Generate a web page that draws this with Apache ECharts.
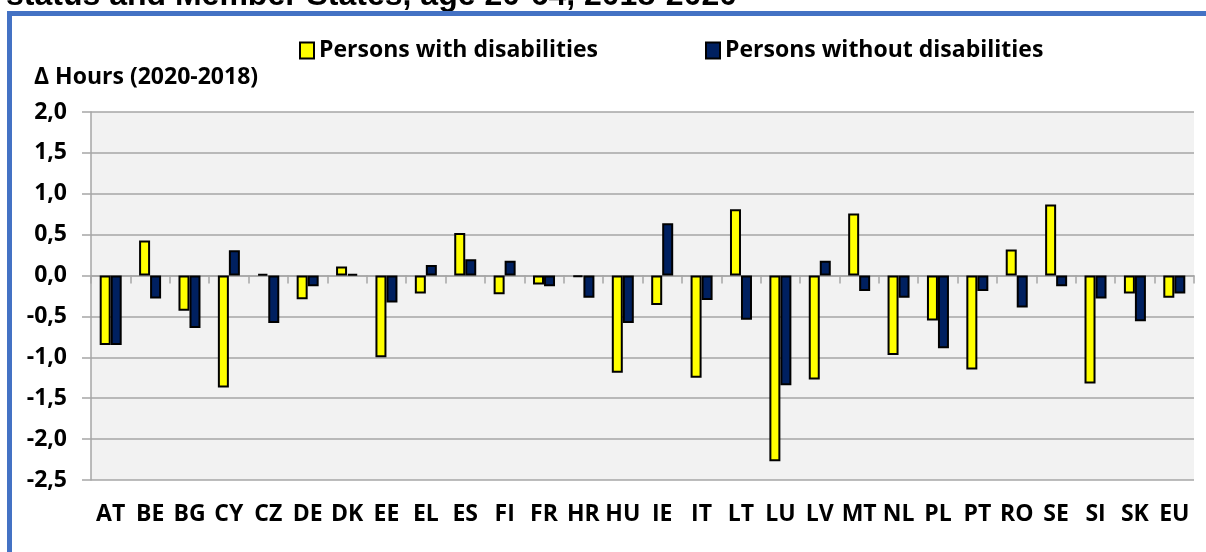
<!DOCTYPE html>
<html>
<head>
<meta charset="utf-8">
<script src="https://cdn.jsdelivr.net/npm/echarts@6/dist/echarts.min.js"></script>
<style>
  html, body { margin: 0; padding: 0; background: #fff; }
  #chartsId { width: 1206px; height: 552px; }
</style>
</head>
<body>
<div id="chartsId"></div>
<script>
const countries = ['AT', 'BE', 'BG', 'CY', 'CZ', 'DE', 'DK', 'EE', 'EL', 'ES', 'FI', 'FR', 'HR', 'HU',
  'IE', 'IT', 'LT', 'LU', 'LV', 'MT', 'NL', 'PL', 'PT', 'RO', 'SE', 'SI', 'SK', 'EU'];

// change in hours, 2020 minus 2018
const withDis = [-0.85, 0.43, -0.43, -1.37, 0.02, -0.29, 0.11, -1.00, -0.22, 0.52, -0.23, -0.11, -0.02, -1.19,
  -0.36, -1.25, 0.81, -2.27, -1.27, 0.76, -0.97, -0.55, -1.15, 0.32, 0.87, -1.32, -0.22, -0.27];
const withoutDis = [-0.85, -0.28, -0.64, 0.31, -0.58, -0.13, 0.02, -0.33, 0.13, 0.20, 0.18, -0.13, -0.27, -0.58,
  0.64, -0.30, -0.54, -1.34, 0.18, -0.19, -0.27, -0.89, -0.19, -0.39, -0.13, -0.28, -0.56, -0.22];

const yTicks = { min: -2.5, max: 2.0, step: 0.5 };

const font = '"Open Sans", Lato, sans-serif';
const fs = 23;
const gridGray = '#a6a6a6';

const chartDom = document.getElementById('chartsId');
const myChart = echarts.init(chartDom);

const option = {
  animation: false,
  backgroundColor: '#fff',
  graphic: [
    {
      type: 'text',
      left: 6,
      top: -20,
      style: {
        text: 'status and Member States, age 20-64, 2018-2020',
        font: 'bold 32px "Liberation Sans", Arial, sans-serif',
        fill: '#000'
      }
    },
    {
      type: 'rect',
      shape: { x: 9.5, y: 13.5, width: 1300, height: 700 },
      style: { fill: 'none', stroke: '#4472C4', lineWidth: 5 }
    }
  ],
  title: {
    text: 'Δ Hours (2020-2018)',
    left: 29,
    top: 61,
    textStyle: { fontFamily: font, fontWeight: 'bold', fontSize: fs, color: '#000' }
  },
  legend: [
    {
      data: ['Persons with disabilities'],
      left: 294,
      top: 34,
      icon: 'rect',
      itemWidth: 14,
      itemHeight: 16,
      itemStyle: { borderColor: '#000', borderWidth: 2 },
      textStyle: { fontFamily: font, fontWeight: 'bold', fontSize: fs, color: '#000' }
    },
    {
      data: ['Persons without disabilities'],
      left: 700,
      top: 34,
      icon: 'rect',
      itemWidth: 14,
      itemHeight: 16,
      itemStyle: { borderColor: '#000', borderWidth: 2 },
      textStyle: { fontFamily: font, fontWeight: 'bold', fontSize: fs, color: '#000' }
    }
  ],
  grid: {
    left: 91,
    right: 12,
    top: 112,
    bottom: 72,
    show: true,
    backgroundColor: '#f2f2f2',
    borderWidth: 0
  },
  xAxis: [
    {
      type: 'category',
      data: countries,
      position: 'bottom',
      axisLine: { show: false, onZero: false },
      axisTick: { show: false },
      axisLabel: {
        margin: 23,
        fontFamily: font,
        fontWeight: 'bold',
        fontSize: fs,
        color: '#000',
        interval: 0
      }
    },
    {
      type: 'category',
      data: countries,
      position: 'bottom',
      axisLine: { show: true, onZero: true, lineStyle: { color: gridGray, width: 1.5 } },
      axisTick: { show: true, length: 8, lineStyle: { color: gridGray, width: 1.5 } },
      axisLabel: { show: false }
    }
  ],
  yAxis: {
    type: 'value',
    min: yTicks.min,
    max: yTicks.max,
    interval: yTicks.step,
    axisLine: { show: true, lineStyle: { color: gridGray, width: 1.5 } },
    axisTick: { show: true, length: 9, lineStyle: { color: gridGray, width: 1.5 } },
    splitLine: { lineStyle: { color: gridGray, width: 1.5 } },
    axisLabel: {
      margin: 24,
      fontFamily: font,
      fontWeight: 'bold',
      fontSize: fs,
      color: '#000',
      formatter: function (v) { return v.toFixed(1).replace('.', ','); }
    }
  },
  series: [
    {
      name: 'Persons with disabilities',
      type: 'bar',
      xAxisIndex: 0,
      barWidth: 11,
      barGap: '0%',
      itemStyle: { color: '#ffff00', borderColor: '#000', borderWidth: 2 },
      data: withDis
    },
    {
      name: 'Persons without disabilities',
      type: 'bar',
      xAxisIndex: 0,
      barWidth: 11,
      barGap: '0%',
      itemStyle: { color: '#002060', borderColor: '#000', borderWidth: 2 },
      data: withoutDis
    }
  ]
};

myChart.setOption(option);
</script>
</body>
</html>
